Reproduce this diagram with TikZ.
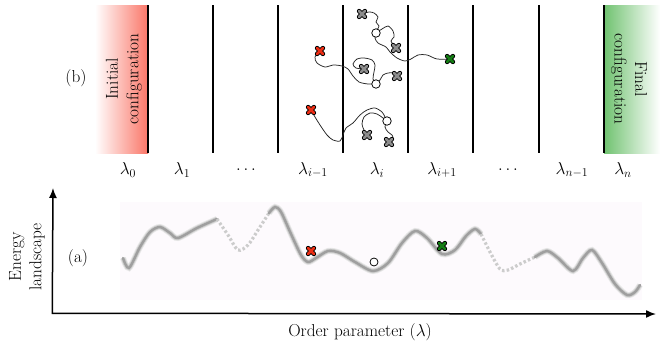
\documentclass[tikz,border=0pt]{standalone}
\usetikzlibrary{arrows.meta}

\definecolor{xred}{RGB}{236,45,20}
\definecolor{xgreen}{RGB}{20,125,20}
\definecolor{xgray}{RGB}{140,140,140}
\definecolor{shadered}{RGB}{250,118,104}
\definecolor{shadegreen}{RGB}{112,194,112}
\definecolor{landbg}{RGB}{253,250,253}

\tikzset{
  every node/.style={font=\fontsize{17.28}{20.5}\selectfont},
  window/.style={line width=1.6pt, black},
  traj/.style={draw=black!85, line width=0.75pt},
  ring/.style={circle, draw=black, fill=white, line width=0.75pt, minimum size=8.5pt, inner sep=0pt},
  curve/.style={draw=gray!75, line width=2.4pt, line cap=round,
    preaction={draw=gray!18, line width=6pt},
    preaction={draw=gray!40, line width=4.2pt}},
  faded/.style={draw=gray!40, line width=3.2pt, dash pattern=on 2.5pt off 2.2pt},
  axis/.style={line width=1.5pt, -{Latex[length=10pt,width=8pt]}},
  pics/xmark/.style={code={
    \draw[line width=4.5pt, black, line cap=round]
      (-2.9,-2.9) -- (2.9,2.9) (-2.9,2.9) -- (2.9,-2.9);
    \draw[line width=2.7pt, #1, line cap=round]
      (-2.9,-2.9) -- (2.9,2.9) (-2.9,2.9) -- (2.9,-2.9);
  }}
}

\begin{document}
\begin{tikzpicture}[x=1pt, y=-1pt]
\useasboundingbox (0,0) rectangle (660,343);

% ---------- (b): replica windows ----------
\shade[left color=white, right color=shadered] (95,5) rectangle (148,153);
\shade[left color=shadegreen, right color=white] (604,5) rectangle (660,153);

\foreach \x/\n in {148/w0,213/w1,278/w2,343/w3,408/w4,473/w5,539/w6,604/w7}
  \draw[window] (\x,5) coordinate (\n top) -- (\x,153) coordinate (\n bot);

\node[rotate=90, align=center] (init) at (124,79) {Initial\\configuration};
\node[rotate=-90, align=center] (final) at (629,79) {Final\\configuration};
\node (lblb) at (76,78) {(b)};

% window labels
\node (l0) at (128,170) {$\lambda_0$};
\node (l1) at (182,170) {$\lambda_1$};
\node (l2) at (246,170) {$\ldots$};
\node (l3) at (313,170) {$\lambda_{i-1}$};
\node (l4) at (377,170) {$\lambda_i$};
\node (l5) at (442,170) {$\lambda_{i+1}$};
\node (l6) at (508,170) {$\ldots$};
\node (l7) at (572,170) {$\lambda_{n-1}$};
\node (l8) at (623,170) {$\lambda_n$};

% marker positions
\coordinate (r1) at (320,51);
\coordinate (r2) at (311,110);
\coordinate (gf) at (450,59);
\coordinate (g1) at (362,14);
\coordinate (g2) at (396,48);
\coordinate (g3) at (364,69);
\coordinate (g4) at (397,76);
\coordinate (g5) at (367,135);
\coordinate (g6) at (389,142);
\coordinate (c1) at (376,84);
\coordinate (c2) at (376,33);
\coordinate (c3) at (387,121);

% trajectories
\draw[traj] plot[smooth] coordinates {(r1) (315,57) (317,63) (325,67) (333,65) (342,66) (348,69) (353,76) (359,82) (368,84) (c1)};
\draw[traj] plot[smooth] coordinates {(c1) (373,79) (374,72) (375,65) (372,60) (364,58) (357,59) (353,64) (356,68) (g3)};
\draw[traj] plot[smooth] coordinates {(c1) (380,80) (383,75) (388,73) (393,73) (g4)};

\draw[traj] plot[smooth] coordinates {(g1) (369,12) (374,13) (378,17) (376,22) (379,26) (377,30) (c2)};
\draw[traj] plot[smooth] coordinates {(c2) (382,29) (388,26) (393,31) (394,37) (391,41) (g2)};
\draw[traj] plot[smooth] coordinates {(c2) (375,38) (378,43) (386,47) (390,52) (397,58) (405,61) (411,59) (418,55) (427,55) (437,59) (gf)};

\draw[traj] plot[smooth] coordinates {(r2) (315,117) (320,125) (327,135) (333,140) (340,141) (343,135) (346,128) (353,123) (360,115) (367,110) (375,108) (382,112) (385,117) (c3)};
\draw[traj] plot[smooth] coordinates {(c3) (383,118) (377,114) (370,113) (364,117) (362,124) (364,130) (g5)};
\draw[traj] plot[smooth] coordinates {(c3) (385,127) (388,132) (392,135) (393,139) (g6)};

\foreach \c in {c1,c2,c3}
  \node[ring] (\c ring) at (\c) {};
\pic (r1mark) at (r1) {xmark=xred};
\pic (r2mark) at (r2) {xmark=xred};
\pic (gfmark) at (gf) {xmark=xgreen};
\foreach \g in {g1,g2,g3,g4,g5,g6}
  \pic (\g mark) at (\g) {xmark=xgray};

% ---------- (a): energy landscape ----------
\fill[landbg] (120,202) rectangle (642,300);

\draw[curve] plot[smooth] coordinates {(123,258) (129,268) (140,247) (150,232) (160,227) (170,233) (178,238) (197,228) (217,219)};
\draw[faded] plot[smooth] coordinates {(217,219) (228,235) (238,250) (248,245) (258,230) (269,213)};
\draw[curve] plot[smooth] coordinates {(269,213) (275,207) (281,212) (291,234) (301,255) (308,262) (316,258) (328,251) (340,253) (355,262) (373,271) (388,263) (402,243) (415,231) (427,238) (442,254) (455,250) (466,236) (475,229) (481,234)};
\draw[faded] plot[smooth] coordinates {(481,234) (490,252) (500,269) (508,270) (520,264) (535,257)};
\draw[curve] plot[smooth] coordinates {(535,257) (547,251) (558,258) (573,271) (583,258) (592,250) (602,263) (615,284) (627,295) (635,292) (640,285)};

\coordinate (ra) at (311,251);
\coordinate (ca) at (374,262);
\coordinate (ga) at (442,246);
\node[ring, minimum size=8pt] (caring) at (ca) {};
\pic (ramark) at (ra) {xmark=xred};
\pic (gamark) at (ga) {xmark=xgreen};

% axes
\coordinate (origin) at (53,314);
\coordinate (ytip) at (53,188);
\coordinate (xtip) at (656,314);
\draw[axis] ([xshift=-0.75pt]origin) -- (ytip);
\draw[axis] ([yshift=0.75pt]origin) -- (xtip);

\node (lbla) at (78,258) {(a)};
\node[rotate=90, align=center] (elabel) at (27,257) {Energy\\landscape};
\node (olabel) at (360,332) {Order parameter ($\lambda$)};
\end{tikzpicture}
\end{document}
